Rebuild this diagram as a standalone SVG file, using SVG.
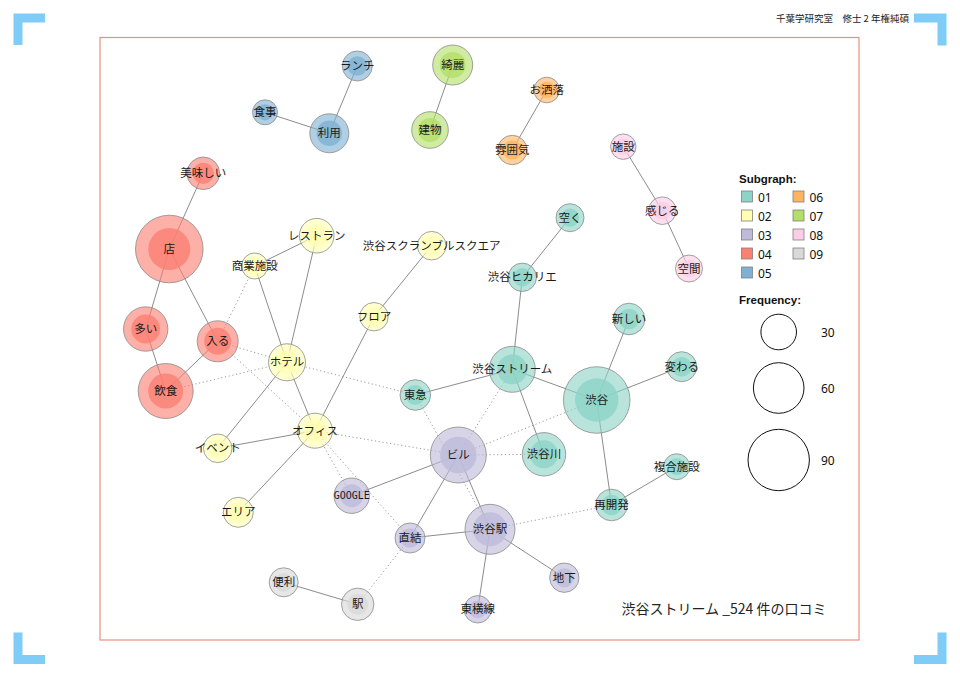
<svg xmlns="http://www.w3.org/2000/svg" width="960" height="678" viewBox="0 0 960 678">
<style>
.bg{fill:#ffffff}
.corner{fill:#7fcdf6}
.frame{fill:none;stroke:#e8927c;stroke-width:1.2}
.hdr{font-family:"Noto Sans CJK JP","Noto Sans",sans-serif;font-size:9.5px;fill:#222}
.foot{font-family:"Noto Sans CJK JP","Noto Sans",sans-serif;font-size:14px;fill:#222}
.e{stroke:#8c8c8c;stroke-width:1;fill:none}
.d{stroke:#9a9a9a;stroke-width:1;stroke-dasharray:1.2 2.6;fill:none}
.o{stroke:#8a8a8a;stroke-width:0.8;fill-opacity:.62}
.i{stroke:none;fill-opacity:.8}
.l{font-family:"Noto Sans CJK JP","Noto Sans",sans-serif;font-size:11.5px;text-anchor:middle;fill:#1a1a1a}
.g{font-family:"DejaVu Sans Mono",monospace;font-size:10px}
.c1 circle,.s1{fill:#8dd3c7}
.c2 circle,.s2{fill:#ffffb3}
.c3 circle,.s3{fill:#bebada}
.c4 circle,.s4{fill:#fb8072}
.c5 circle,.s5{fill:#80b1d3}
.c6 circle,.s6{fill:#fdb462}
.c7 circle,.s7{fill:#b3de69}
.c8 circle,.s8{fill:#fccde5}
.c9 circle,.s9{fill:#d9d9d9}
.sw{stroke:#808080;stroke-width:0.8}
.lh{font-family:"Liberation Sans",Arial,sans-serif;font-size:11.5px;font-weight:bold;fill:#111}
.lt{font-family:"Noto Sans","Liberation Sans",sans-serif;font-size:12px;fill:#111}
.fc{fill:none;stroke:#111;stroke-width:1}
</style>
<rect class="bg" x="0" y="0" width="960" height="678"/>
<g id="corners">
<polygon class="corner" points="13.5,13.5 45,13.5 45,22.5 22.5,22.5 22.5,45 13.5,45"/>
<polygon class="corner" points="914,13.5 946.5,13.5 946.5,45.5 937.5,45.5 937.5,22.5 914,22.5"/>
<polygon class="corner" points="13.5,632.5 22.5,632.5 22.5,655 45,655 45,664 13.5,664"/>
<polygon class="corner" points="937.5,632.5 946.5,632.5 946.5,664 914,664 914,655 937.5,655"/>
</g>
<rect class="frame" x="100" y="37.5" width="759" height="602.5"/>
<text class="hdr" x="909" y="21.5" text-anchor="end">千葉学研究室　修士 2 年権純碩</text>
<g id="edges">
<line class="e" x1="203.3" y1="173.3" x2="169.3" y2="249"/>
<line class="e" x1="169.3" y1="249" x2="145.7" y2="329"/>
<line class="e" x1="169.3" y1="249" x2="217.7" y2="341.3"/>
<line class="e" x1="145.7" y1="329" x2="165.7" y2="391"/>
<line class="e" x1="217.7" y1="341.3" x2="165.7" y2="391"/>
<line class="e" x1="254.7" y1="266" x2="316.7" y2="235.7"/>
<line class="e" x1="254.7" y1="266" x2="287" y2="362.3"/>
<line class="e" x1="316.7" y1="235.7" x2="287" y2="362.3"/>
<line class="e" x1="287" y1="362.3" x2="217.7" y2="448.3"/>
<line class="e" x1="287" y1="362.3" x2="315" y2="430.7"/>
<line class="e" x1="315" y1="430.7" x2="217.7" y2="448.3"/>
<line class="e" x1="315" y1="430.7" x2="238.3" y2="512.3"/>
<line class="e" x1="315" y1="430.7" x2="374" y2="316.7"/>
<line class="e" x1="374" y1="316.7" x2="431.7" y2="245.7"/>
<line class="e" x1="570" y1="217.7" x2="522.3" y2="277.3"/>
<line class="e" x1="522.3" y1="277.3" x2="512.3" y2="369.3"/>
<line class="e" x1="512.3" y1="369.3" x2="415.3" y2="395"/>
<line class="e" x1="512.3" y1="369.3" x2="596.7" y2="400"/>
<line class="e" x1="512.3" y1="369.3" x2="544" y2="454.3"/>
<line class="e" x1="596.7" y1="400" x2="629" y2="319"/>
<line class="e" x1="596.7" y1="400" x2="681.7" y2="366.7"/>
<line class="e" x1="596.7" y1="400" x2="611.5" y2="505"/>
<line class="e" x1="611.5" y1="505" x2="676.7" y2="466.7"/>
<line class="e" x1="458.3" y1="455" x2="351.7" y2="495.7"/>
<line class="e" x1="458.3" y1="455" x2="410" y2="538"/>
<line class="e" x1="458.3" y1="455" x2="490" y2="529.3"/>
<line class="e" x1="410" y1="538" x2="490" y2="529.3"/>
<line class="e" x1="490" y1="529.3" x2="564.3" y2="577.7"/>
<line class="e" x1="490" y1="529.3" x2="477.7" y2="609.3"/>
<line class="e" x1="283.7" y1="582.3" x2="357.7" y2="604.3"/>
<line class="e" x1="357.3" y1="66" x2="329.3" y2="133.3"/>
<line class="e" x1="265" y1="112.3" x2="329.3" y2="133.3"/>
<line class="e" x1="452.7" y1="65" x2="430" y2="130"/>
<line class="e" x1="546.7" y1="90" x2="512.3" y2="150"/>
<line class="e" x1="623.3" y1="146.7" x2="662.3" y2="210.7"/>
<line class="e" x1="662.3" y1="210.7" x2="689" y2="268.5"/>
<line class="d" x1="254.7" y1="266" x2="217.7" y2="341.3"/>
<line class="d" x1="217.7" y1="341.3" x2="287" y2="362.3"/>
<line class="d" x1="217.7" y1="341.3" x2="315" y2="430.7"/>
<line class="d" x1="165.7" y1="391" x2="287" y2="362.3"/>
<line class="d" x1="287" y1="362.3" x2="415.3" y2="395"/>
<line class="d" x1="315" y1="430.7" x2="458.3" y2="455"/>
<line class="d" x1="315" y1="430.7" x2="351.7" y2="495.7"/>
<line class="d" x1="315" y1="430.7" x2="410" y2="538"/>
<line class="d" x1="415.3" y1="395" x2="490" y2="529.3"/>
<line class="d" x1="512.3" y1="369.3" x2="458.3" y2="455"/>
<line class="d" x1="596.7" y1="400" x2="458.3" y2="455"/>
<line class="d" x1="544" y1="454.3" x2="458.3" y2="455"/>
<line class="d" x1="490" y1="529.3" x2="611.5" y2="505"/>
<line class="d" x1="410" y1="538" x2="357.7" y2="604.3"/>
</g>
<g id="nodes">
<g id="n-aku" class="c1"><circle class="o" cx="570" cy="217.7" r="14"/><circle class="i" cx="570" cy="217.7" r="9.1"/><text class="l" x="570" y="221.7">空く</text></g>
<g id="n-hikarie" class="c1"><circle class="o" cx="522.3" cy="277.3" r="14.2"/><circle class="i" cx="522.3" cy="277.3" r="9.2"/><text class="l" x="522.3" y="281.3">渋谷ヒカリエ</text></g>
<g id="n-stream" class="c1"><circle class="o" cx="512.3" cy="369.3" r="23"/><circle class="i" cx="512.3" cy="369.3" r="15"/><text class="l" x="512.3" y="373.3">渋谷ストリーム</text></g>
<g id="n-shibuya" class="c1"><circle class="o" cx="596.7" cy="400" r="33.3"/><circle class="i" cx="596.7" cy="400" r="21.7"/><text class="l" x="596.7" y="404">渋谷</text></g>
<g id="n-atarashii" class="c1"><circle class="o" cx="629" cy="319" r="15.8"/><circle class="i" cx="629" cy="319" r="10.3"/><text class="l" x="629" y="323">新しい</text></g>
<g id="n-kawaru" class="c1"><circle class="o" cx="681.7" cy="366.7" r="15"/><circle class="i" cx="681.7" cy="366.7" r="9.8"/><text class="l" x="681.7" y="370.7">変わる</text></g>
<g id="n-shibuyagawa" class="c1"><circle class="o" cx="544" cy="454.3" r="21.7"/><circle class="i" cx="544" cy="454.3" r="14"/><text class="l" x="544" y="458.3">渋谷川</text></g>
<g id="n-fukugo" class="c1"><circle class="o" cx="676.7" cy="466.7" r="13"/><circle class="i" cx="676.7" cy="466.7" r="8.5"/><text class="l" x="676.7" y="470.7">複合施設</text></g>
<g id="n-saikaihatsu" class="c1"><circle class="o" cx="611.5" cy="505" r="15.8"/><circle class="i" cx="611.5" cy="505" r="10.3"/><text class="l" x="611.5" y="509">再開発</text></g>
<g id="n-tokyu" class="c1"><circle class="o" cx="415.3" cy="395" r="15.3"/><circle class="i" cx="415.3" cy="395" r="10"/><text class="l" x="415.3" y="399">東急</text></g>
<g id="n-restaurant" class="c2"><circle class="o" cx="316.7" cy="235.7" r="17.3"/><circle class="i" cx="316.7" cy="235.7" r="11.2"/><text class="l" x="316.7" y="239.7">レストラン</text></g>
<g id="n-shogyo" class="c2"><circle class="o" cx="254.7" cy="266" r="13"/><circle class="i" cx="254.7" cy="266" r="8.5"/><text class="l" x="254.7" y="270">商業施設</text></g>
<g id="n-hotel" class="c2"><circle class="o" cx="287" cy="362.3" r="18.5"/><circle class="i" cx="287" cy="362.3" r="12"/><text class="l" x="287" y="366.3">ホテル</text></g>
<g id="n-office" class="c2"><circle class="o" cx="315" cy="430.7" r="17.5"/><circle class="i" cx="315" cy="430.7" r="11.4"/><text class="l" x="315" y="434.7">オフィス</text></g>
<g id="n-event" class="c2"><circle class="o" cx="217.7" cy="448.3" r="14.3"/><circle class="i" cx="217.7" cy="448.3" r="9.3"/><text class="l" x="217.7" y="452.3">イベント</text></g>
<g id="n-area" class="c2"><circle class="o" cx="238.3" cy="512.3" r="15"/><circle class="i" cx="238.3" cy="512.3" r="9.8"/><text class="l" x="238.3" y="516.3">エリア</text></g>
<g id="n-floor" class="c2"><circle class="o" cx="374" cy="316.7" r="14.2"/><circle class="i" cx="374" cy="316.7" r="9.2"/><text class="l" x="374" y="320.7">フロア</text></g>
<g id="n-scramble" class="c2"><circle class="o" cx="431.7" cy="245.7" r="14.3"/><circle class="i" cx="431.7" cy="245.7" r="9.3"/><text class="l" x="431.7" y="249.7">渋谷スクランブルスクエア</text></g>
<g id="n-biru" class="c3"><circle class="o" cx="458.3" cy="455" r="28"/><circle class="i" cx="458.3" cy="455" r="18.3"/><text class="l" x="458.3" y="459">ビル</text></g>
<g id="n-google" class="c3"><circle class="o" cx="351.7" cy="495.7" r="17.7"/><circle class="i" cx="351.7" cy="495.7" r="11.5"/><text class="l g" x="351.7" y="499.3">GOOGLE</text></g>
<g id="n-chokketsu" class="c3"><circle class="o" cx="410" cy="538" r="15"/><circle class="i" cx="410" cy="538" r="9.8"/><text class="l" x="410" y="542">直結</text></g>
<g id="n-shibuyaeki" class="c3"><circle class="o" cx="490" cy="529.3" r="25"/><circle class="i" cx="490" cy="529.3" r="17"/><text class="l" x="490" y="533.3">渋谷駅</text></g>
<g id="n-chika" class="c3"><circle class="o" cx="564.3" cy="577.7" r="14.7"/><circle class="i" cx="564.3" cy="577.7" r="9.5"/><text class="l" x="564.3" y="581.7">地下</text></g>
<g id="n-toyoko" class="c3"><circle class="o" cx="477.7" cy="609.3" r="13.7"/><circle class="i" cx="477.7" cy="609.3" r="8.9"/><text class="l" x="477.7" y="613.3">東横線</text></g>
<g id="n-oishii" class="c4"><circle class="o" cx="203.3" cy="173.3" r="16.3"/><circle class="i" cx="203.3" cy="173.3" r="10.6"/><text class="l" x="203.3" y="177.3">美味しい</text></g>
<g id="n-mise" class="c4"><circle class="o" cx="169.3" cy="249" r="33.8"/><circle class="i" cx="169.3" cy="249" r="21"/><text class="l" x="169.3" y="253">店</text></g>
<g id="n-ooi" class="c4"><circle class="o" cx="145.7" cy="329" r="22.2"/><circle class="i" cx="145.7" cy="329" r="14.4"/><text class="l" x="145.7" y="333">多い</text></g>
<g id="n-hairu" class="c4"><circle class="o" cx="217.7" cy="341.3" r="20.5"/><circle class="i" cx="217.7" cy="341.3" r="13.5"/><text class="l" x="217.7" y="345.3">入る</text></g>
<g id="n-inshoku" class="c4"><circle class="o" cx="165.7" cy="391" r="27.5"/><circle class="i" cx="165.7" cy="391" r="17.5"/><text class="l" x="165.7" y="395">飲食</text></g>
<g id="n-lunch" class="c5"><circle class="o" cx="357.3" cy="66" r="15"/><circle class="i" cx="357.3" cy="66" r="9.8"/><text class="l" x="357.3" y="70">ランチ</text></g>
<g id="n-shokuji" class="c5"><circle class="o" cx="265" cy="112.3" r="12.5"/><circle class="i" cx="265" cy="112.3" r="8.1"/><text class="l" x="265" y="116.3">食事</text></g>
<g id="n-riyo" class="c5"><circle class="o" cx="329.3" cy="133.3" r="19.5"/><circle class="i" cx="329.3" cy="133.3" r="12.7"/><text class="l" x="329.3" y="137.3">利用</text></g>
<g id="n-oshare" class="c6"><circle class="o" cx="546.7" cy="90" r="12.8"/><circle class="i" cx="546.7" cy="90" r="8.3"/><text class="l" x="546.7" y="94">お洒落</text></g>
<g id="n-funiki" class="c6"><circle class="o" cx="512.3" cy="150" r="14.7"/><circle class="i" cx="512.3" cy="150" r="9.6"/><text class="l" x="512.3" y="154">雰囲気</text></g>
<g id="n-kirei" class="c7"><circle class="o" cx="452.7" cy="65" r="20"/><circle class="i" cx="452.7" cy="65" r="13"/><text class="l" x="452.7" y="69">綺麗</text></g>
<g id="n-tatemono" class="c7"><circle class="o" cx="430" cy="130" r="18.3"/><circle class="i" cx="430" cy="130" r="11.9"/><text class="l" x="430" y="134">建物</text></g>
<g id="n-shisetsu" class="c8"><circle class="o" cx="623.3" cy="146.7" r="12.7"/><circle class="i" cx="623.3" cy="146.7" r="8.3"/><text class="l" x="623.3" y="150.7">施設</text></g>
<g id="n-kanjiru" class="c8"><circle class="o" cx="662.3" cy="210.7" r="13.8"/><circle class="i" cx="662.3" cy="210.7" r="9"/><text class="l" x="662.3" y="214.7">感じる</text></g>
<g id="n-kukan" class="c8"><circle class="o" cx="689" cy="268.5" r="13.5"/><circle class="i" cx="689" cy="268.5" r="8.8"/><text class="l" x="689" y="272.5">空間</text></g>
<g id="n-benri" class="c9"><circle class="o" cx="283.7" cy="582.3" r="14.5"/><circle class="i" cx="283.7" cy="582.3" r="9.4"/><text class="l" x="283.7" y="586.3">便利</text></g>
<g id="n-eki" class="c9"><circle class="o" cx="357.7" cy="604.3" r="16.2"/><circle class="i" cx="357.7" cy="604.3" r="10.5"/><text class="l" x="357.7" y="608.3">駅</text></g>
</g>
<g id="legend">
<text class="lh" x="739" y="183">Subgraph:</text>
<rect class="sw s1" x="741.5" y="191" width="11" height="11"/><text class="lt" x="758" y="201.5">01</text>
<rect class="sw s2" x="741.5" y="210" width="11" height="11"/><text class="lt" x="758" y="220.5">02</text>
<rect class="sw s3" x="741.5" y="229" width="11" height="11"/><text class="lt" x="758" y="239.5">03</text>
<rect class="sw s4" x="741.5" y="248" width="11" height="11"/><text class="lt" x="758" y="258.5">04</text>
<rect class="sw s5" x="741.5" y="267" width="11" height="11"/><text class="lt" x="758" y="277.5">05</text>
<rect class="sw s6" x="793" y="191" width="11" height="11"/><text class="lt" x="809.5" y="201.5">06</text>
<rect class="sw s7" x="793" y="210" width="11" height="11"/><text class="lt" x="809.5" y="220.5">07</text>
<rect class="sw s8" x="793" y="229" width="11" height="11"/><text class="lt" x="809.5" y="239.5">08</text>
<rect class="sw s9" x="793" y="248" width="11" height="11"/><text class="lt" x="809.5" y="258.5">09</text>
<text class="lh" x="739" y="304">Frequency:</text>
<circle class="fc" cx="778.7" cy="332" r="17.8"/><text class="lt" x="821" y="336.5">30</text>
<circle class="fc" cx="778.7" cy="388" r="25.3"/><text class="lt" x="821" y="392.5">60</text>
<circle class="fc" cx="778.7" cy="460" r="30.7"/><text class="lt" x="821" y="464.5">90</text>
</g>
<text class="foot" x="621.5" y="614">渋谷ストリーム _524 件の口コミ</text>
</svg>
